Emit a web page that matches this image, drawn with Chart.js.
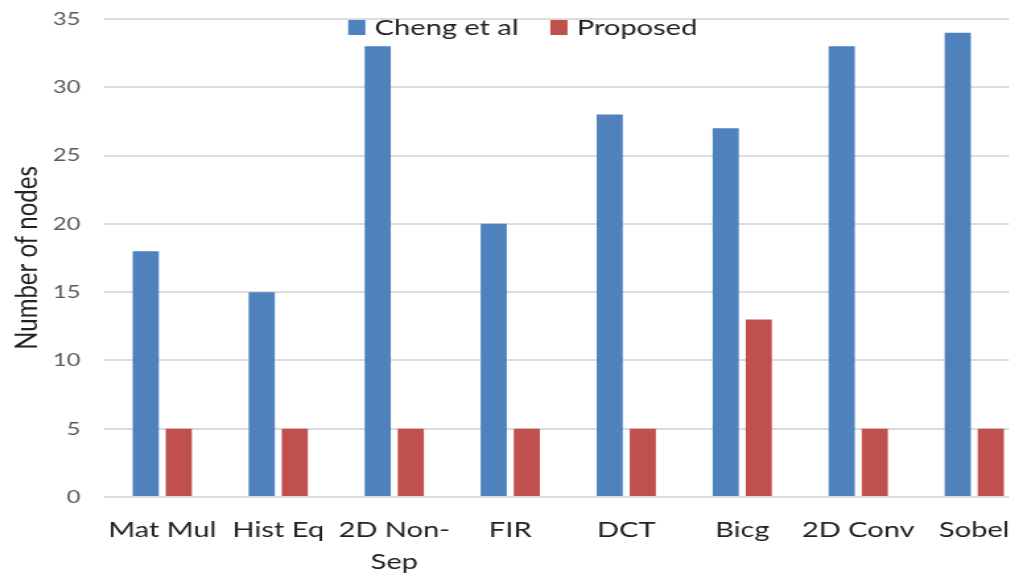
<!DOCTYPE html>
<html>
<head>
<meta charset="utf-8">
<script src="https://cdn.jsdelivr.net/npm/chart.js@4.4.1/dist/chart.umd.min.js"></script>
<style>
  html, body { margin: 0; padding: 0; background: #fff; overflow: hidden; }
  #wrap { width: 782px; height: 574px; transform: scaleX(1.32); transform-origin: 0 0; }
</style>
</head>
<body>
<div id="wrap"><canvas id="c" width="782" height="574"></canvas></div>
<script>
// Benchmarks on the x axis
const categories = [
  "Mat Mul", "Hist Eq", ["2D Non-", "Sep"], "FIR", "DCT", "Bicg", "2D Conv", "Sobel"
];
// Node counts per method
const chengValues = [18, 15, 33, 20, 28, 27, 33, 34];
const proposedValues = [5, 5, 5, 5, 5, 13, 5, 5];
// Y axis ticks
const yTicks = [0, 5, 10, 15, 20, 25, 30, 35];

const FONT = "Lato, 'Open Sans', sans-serif";

// Legend laid over the top of the plot, roughly centred on the canvas
const overlayLegend = {
  id: "overlayLegend",
  afterDraw(chart) {
    const ctx = chart.ctx;
    const box = { w: 13, h: 15 };
    const textGap = 7, itemGap = 24, boxTop = 20, shift = 5;
    ctx.save();
    ctx.font = `22px ${FONT}`;
    ctx.textBaseline = "middle";
    const items = chart.data.datasets.map(ds => ({
      text: ds.label, color: ds.backgroundColor, tw: ctx.measureText(ds.label).width
    }));
    const total = items.reduce((s, it) => s + box.w + textGap + it.tw, 0) + itemGap * (items.length - 1);
    let x = (chart.width - total) / 2 + shift;
    items.forEach(it => {
      ctx.fillStyle = it.color;
      ctx.fillRect(x, boxTop, box.w, box.h);
      x += box.w + textGap;
      ctx.fillStyle = "#222";
      ctx.fillText(it.text, x, boxTop + box.h / 2);
      x += it.tw + itemGap;
    });
    ctx.restore();
  }
};

new Chart(document.getElementById("c"), {
  type: "bar",
  data: {
    labels: categories,
    datasets: [
      {
        label: "Cheng et al",
        data: chengValues,
        backgroundColor: "#4F81BD",
        categoryPercentage: 0.57,
        barPercentage: 0.79
      },
      {
        label: "Proposed",
        data: proposedValues,
        backgroundColor: "#C0504D",
        categoryPercentage: 0.57,
        barPercentage: 0.79
      }
    ]
  },
  plugins: [overlayLegend],
  options: {
    responsive: false,
    animation: false,
    layout: { padding: 0 },
    plugins: {
      tooltip: { enabled: false },
      legend: { display: false }
    },
    scales: {
      x: {
        afterFit: (s) => { s.height = 77; },
        grid: { display: false, drawTicks: false },
        border: { display: false },
        ticks: {
          color: "#222",
          padding: 17,
          maxRotation: 0,
          autoSkip: false,
          font: { family: FONT, size: 22, lineHeight: 1.45 }
        }
      },
      y: {
        min: 0,
        max: 35,
        afterBuildTicks: (s) => { s.ticks = yTicks.map(v => ({ value: v })); },
        afterFit: (s) => { s.width = 79; s.paddingTop = 19; },
        grid: { color: "#DCDCDC", lineWidth: 2, drawTicks: false },
        border: { display: false },
        ticks: {
          color: "#595959",
          padding: 18,
          font: { family: FONT, size: 18 }
        },
        title: {
          display: true,
          text: "Number of nodes",
          color: "#222",
          padding: { top: 6, bottom: 0 },
          font: { family: FONT, size: 24 }
        }
      }
    }
  }
});
</script>
</body>
</html>
